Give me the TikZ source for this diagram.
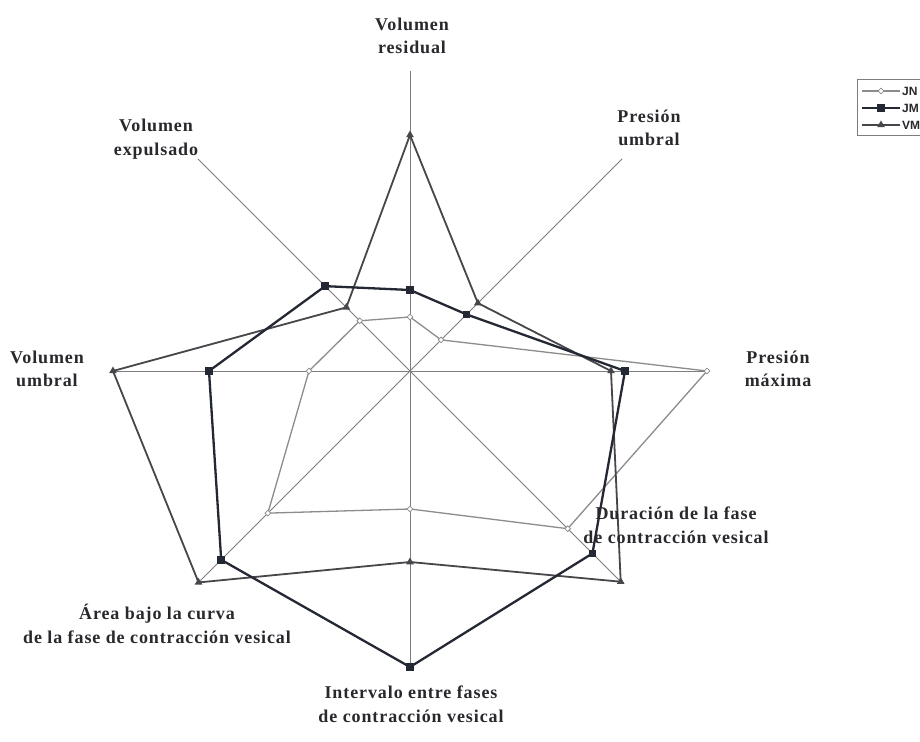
\documentclass[tikz,border=0pt]{standalone}
\usepackage{fontspec}
\setmainfont{Liberation Serif}
\newfontfamily\labelfont[LetterSpace=5]{Liberation Serif}
\newfontfamily\legendfont{Liberation Sans}
\usetikzlibrary{shapes.geometric}
\definecolor{axisgray}{RGB}{125,125,125}
\definecolor{jngray}{RGB}{140,140,140}
\definecolor{jmdark}{RGB}{35,40,50}
\definecolor{vmgray}{RGB}{70,70,75}
\definecolor{labelcol}{RGB}{40,40,45}
\tikzset{
  axisline/.style={draw=axisgray, line width=0.8pt},
  jnline/.style={draw=jngray, line width=1.3pt, line join=round},
  jmline/.style={draw=jmdark, line width=2.3pt, line join=round},
  vmline/.style={draw=vmgray, line width=1.8pt, line join=round},
  jnmark/.style={diamond, draw=jngray, fill=white, line width=0.8pt, inner sep=0pt, minimum size=6pt},
  jmmark/.style={rectangle, fill=jmdark, inner sep=0pt, minimum size=7.5pt},
  vmmark/.style={regular polygon, regular polygon sides=3, fill=vmgray, inner sep=0pt, minimum size=9pt},
  axlabel/.style={align=center, text=labelcol, font=\labelfont\bfseries\fontsize{18}{23.5}\selectfont},
  legtext/.style={anchor=west, text=labelcol, inner sep=0pt, font=\legendfont\bfseries\fontsize{12}{12}\selectfont},
  legbox/.style={draw=axisgray, line width=0.7pt}
}
\begin{document}
\begin{tikzpicture}[x=1pt,y=1pt]
\useasboundingbox (-410,-370) rectangle (510,371);
\clip (-410,-370) rectangle (510,371);
\fill[white] (-410,-370) rectangle (510,371);

\coordinate (o) at (0,0);
\foreach \a [count=\i] in {90,45,0,-45,-90,-135,180,135}
  \coordinate (ax\i) at (\a:300);
\foreach \i in {1,...,8}
  \draw[axisline] (o) -- (ax\i);

\foreach \a/\r [count=\i] in {90/54,45/44,0/297,-45/223,-90/138,-135/201,180/101,135/71}
  \coordinate (jn\i) at (\a:\r);
\foreach \a/\r [count=\i] in {90/81,45/80,0/215,-45/258,-90/296,-135/267,180/201,135/120}
  \coordinate (jm\i) at (\a:\r);
\foreach \a/\r [count=\i] in {90/236,45/96,0/201,-45/298,-90/191,-135/299,180/297,135/90}
  \coordinate (vm\i) at (\a:\r);

\draw[jnline] (jn1) -- (jn2) -- (jn3) -- (jn4) -- (jn5) -- (jn6) -- (jn7) -- (jn8) -- cycle;
\draw[vmline] (vm1) -- (vm2) -- (vm3) -- (vm4) -- (vm5) -- (vm6) -- (vm7) -- (vm8) -- cycle;
\draw[jmline] (jm1) -- (jm2) -- (jm3) -- (jm4) -- (jm5) -- (jm6) -- (jm7) -- (jm8) -- cycle;
\foreach \i in {1,...,8} {
  \node[jnmark] (jnm\i) at (jn\i) {};
  \node[vmmark] (vmm\i) at (vm\i) {};
  \node[jmmark] (jmm\i) at (jm\i) {};
}

\node[axlabel] (lresidual) at (2,335) {Volumen\\residual};
\node[axlabel] (lpumbral) at (239,243) {Presión\\umbral};
\node[axlabel] (lpmaxima) at (368,2) {Presión\\máxima};
\node[axlabel] (lduracion) at (266,-154) {Duración de la fase\\de contracción vesical};
\node[axlabel] (lintervalo) at (1,-333) {Intervalo entre fases\\de contracción vesical};
\node[axlabel] (larea) at (-253,-253) {Área bajo la curva\\de la fase de contracción vesical};
\node[axlabel] (lvumbral) at (-363,2) {Volumen\\umbral};
\node[axlabel] (lexpulsado) at (-254,232) {Volumen\\expulsado};

\draw[legbox] (447,292) rectangle (540,236);
\coordinate (lg1a) at (452,280); \coordinate (lg1b) at (490,280);
\coordinate (lg2a) at (452,263); \coordinate (lg2b) at (490,263);
\coordinate (lg3a) at (452,246); \coordinate (lg3b) at (490,246);
\draw[jnline] (lg1a) -- (lg1b);
\draw[jmline] (lg2a) -- (lg2b);
\draw[vmline] (lg3a) -- (lg3b);
\node[jnmark] (lgm1) at (471,280) {};
\node[jmmark] (lgm2) at (471,263) {};
\node[vmmark] (lgm3) at (471,246) {};
\node[legtext] (lgt1) at (492,280) {JN};
\node[legtext] (lgt2) at (492,263) {JM};
\node[legtext] (lgt3) at (492,246) {VM};
\end{tikzpicture}
\end{document}
